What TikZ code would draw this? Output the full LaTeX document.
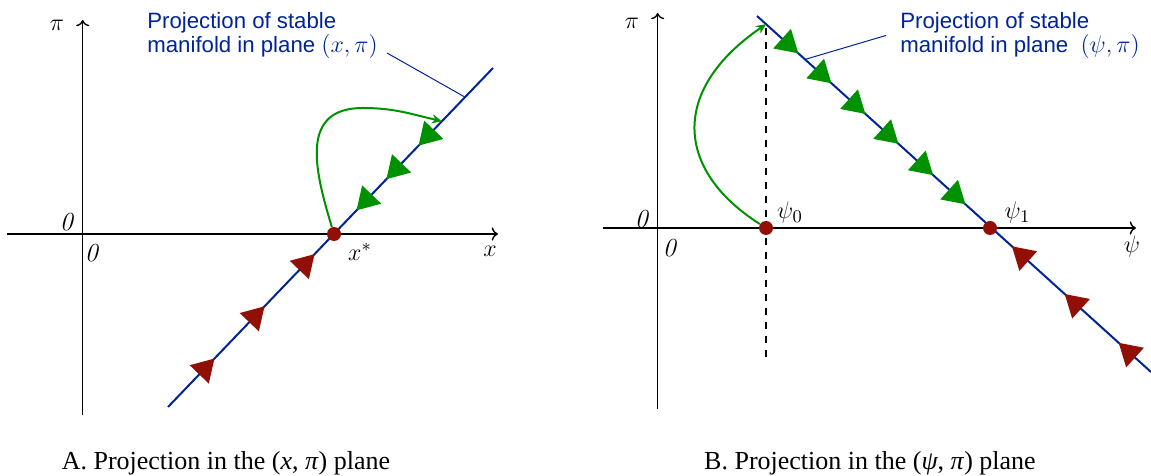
\documentclass[tikz,border=0pt]{standalone}
\usepackage{fontspec}
\setsansfont{Liberation Sans}
\newfontfamily\capfont{Liberation Serif}
\usetikzlibrary{arrows.meta,decorations.markings,calc}
\definecolor{mfblue}{RGB}{0,35,150}
\definecolor{fpred}{RGB}{145,15,5}
\definecolor{trgreen}{RGB}{0,145,0}
\tikzset{
    redhead/.tip={Triangle[length=11pt,width=13pt,color=fpred]},
    greenhead/.tip={Triangle[length=11pt,width=13pt,color=trgreen]}
}

\begin{document}
\begin{tikzpicture}[x=0.5pt, y=0.5pt,
    axis/.style={->, line width=0.7pt},
    manifold/.style={mfblue, line width=1pt, postaction=decorate},
    leader/.style={mfblue, line width=0.5pt},
    orbit/.style={trgreen, line width=1pt, -{Stealth[length=5pt,width=4.5pt]}},
    fixpt/.style={circle, fill=fpred, inner sep=0pt, minimum size=7pt},
    lbl/.style={inner sep=0pt, font=\fontsize{13}{15}\selectfont},
    note/.style={inner sep=0pt, anchor=north west, align=left, text=mfblue, font=\sffamily\fontsize{11.1}{12}\selectfont},
    capt/.style={inner sep=0pt, anchor=base, font=\capfont\fontsize{13}{15}\selectfont}
]
\useasboundingbox (0,0) rectangle (1151,476);

% A: axes
\coordinate (Axl) at (7,242);
\coordinate (Axr) at (498,242);
\coordinate (Ayb) at (82.7,61);
\coordinate (Ayt) at (82.7,456);
\draw[axis] (Axl) -- (Axr);
\draw[axis] (Ayb) -- (Ayt);

% A: stable manifold
\coordinate (Ala) at (168,69);
\coordinate (Alb) at (493,408);
\draw[manifold, decoration={markings,
    mark=at position 0.143 with {\arrow{redhead}},
    mark=at position 0.297 with {\arrow{redhead}},
    mark=at position 0.451 with {\arrow{redhead}},
    mark=at position 0.580 with {\arrowreversed{greenhead}},
    mark=at position 0.672 with {\arrowreversed{greenhead}},
    mark=at position 0.771 with {\arrowreversed{greenhead}}}] (Ala) -- (Alb);
\node[fixpt] (xs) at (334,242) {};

% A: orbit back onto the manifold
\coordinate (Atop) at (363,368);
\coordinate (Aend) at ($(Ala)!0.843!(Alb)$);
\draw[orbit] (xs) to[out=107,in=180,looseness=1.3] (Atop) to[out=0,in=167] (Aend);

% A: labels
\node[note] (Anote) at (147,464) {Projection of stable\\manifold in plane {\fontsize{13}{12}\selectfont$(x,\pi)$}};
\coordinate (Apin) at (387,423);
\draw[leader] (Apin) -- ($(Ala)!0.914!(Alb)$);
\node[lbl] (Api) at (57,451) {$\pi$};
\node[lbl] (Az1) at (67,254) {\textit{0}};
\node[lbl] (Az2) at (92,223) {\textit{0}};
\node[lbl] (Axlab) at (490,225) {$x$};
\node[lbl] (Axs) at (360,224.5) {$x^*$};
\node[capt] (Acap) at (226,6) {A.\ Projection in the (\textit{x}, \textit{π}) plane};

% B: axes
\coordinate (Bxl) at (603,248);
\coordinate (Bxr) at (1136,248);
\coordinate (Byb) at (657.7,67);
\coordinate (Byt) at (657.7,463);
\draw[axis] (Bxl) -- (Bxr);
\draw[axis] (Byb) -- (Byt);
\coordinate (Bdt) at (766,448);
\coordinate (Bdb) at (766,114);
\draw[dash pattern=on 3.5pt off 3.5pt, line width=0.7pt] (Bdt) -- (Bdb);

% B: stable manifold
\coordinate (Bla) at (757,460);
\coordinate (Blb) at (1151,104);
\draw[manifold, decoration={markings,
    mark=at position 0.105 with {\arrow{greenhead}},
    mark=at position 0.189 with {\arrow{greenhead}},
    mark=at position 0.275 with {\arrow{greenhead}},
    mark=at position 0.359 with {\arrow{greenhead}},
    mark=at position 0.447 with {\arrow{greenhead}},
    mark=at position 0.529 with {\arrow{greenhead}},
    mark=at position 0.647 with {\arrowreversed{redhead}},
    mark=at position 0.781 with {\arrowreversed{redhead}},
    mark=at position 0.918 with {\arrowreversed{redhead}}}] (Bla) -- (Blb);
\node[fixpt] (p0) at (766,248) {};
\node[fixpt] (p1) at (990,248) {};

% B: orbit up to the manifold
\coordinate (Bend) at ($(Bla)!0.023!(Blb)$);
\draw[orbit] (p0) .. controls (675,306) and (670,386) .. (Bend);

% B: labels
\node[note] (Bnote) at (900,464) {Projection of stable\\manifold in plane~ {\fontsize{13}{12}\selectfont$(\psi,\pi)$}};
\draw[leader] ($(Bla)!0.122!(Blb)$) -- ([xshift=-7pt]Bnote.west);
\node[lbl] (Bpi) at (632,453) {$\pi$};
\node[lbl] (Bz1) at (642,257) {\textit{0}};
\node[lbl] (Bz2) at (670,228) {\textit{0}};
\node[lbl] (Bpsi) at (1132,229) {$\psi$};
\node[lbl] (Bp0) at (790,263) {$\psi_0$};
\node[lbl] (Bp1) at (1017.5,263) {$\psi_1$};
\node[capt] (Bcap) at (870,6) {B.\ Projection in the (\textit{ψ}, \textit{π}) plane};

\end{tikzpicture}
\end{document}
